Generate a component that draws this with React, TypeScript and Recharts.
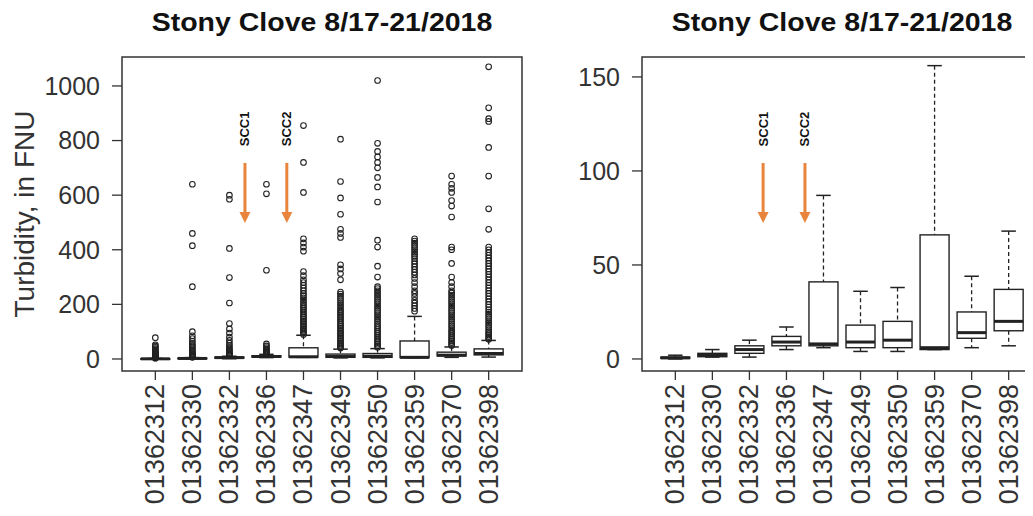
import { ComposedChart, Bar, Scatter, XAxis, YAxis, ReferenceArea, ReferenceLine } from 'recharts';

// USGS gage stations along Stony Clove Creek
const stations = ['01362312', '01362330', '01362332', '01362336', '01362347', '01362349', '01362350', '01362359', '01362370', '01362398'];
const stationPos = [1, 2, 3, 4, 5, 6, 7, 8, 9, 10];

// box statistics, turbidity in FNU
const whiskerLow = [0, 1, 1, 5, 6, 4, 4, 5, 6, 7];
const q1 = [0.3, 1.2, 3, 7, 7, 6, 6, 5, 11, 15];
const median = [0.6, 2, 5, 9, 8, 9, 10, 6, 14, 20];
const q3 = [1, 3, 7, 12, 41, 18, 20, 66, 25, 37];
const whiskerHigh = [2, 5, 10, 17, 87, 36, 38, 156, 44, 68];

// outliers per station (left panel only)
const outliers01362312 = [3, 4, 5, 6, 8, 10, 12, 14, 16, 18, 20, 23, 26, 30, 34, 38, 43, 48, 52, 78];
const outliers01362330 = [6, 8, 10, 12, 14, 17, 20, 24, 28, 33, 38, 44, 50, 57, 65, 75, 85, 100, 265, 415, 460, 640];
const outliers01362332 = [12, 14, 16, 18, 21, 24, 28, 32, 37, 43, 50, 58, 68, 80, 95, 110, 130, 205, 298, 405, 585, 600];
const outliers01362336 = [19, 22, 25, 29, 33, 37, 42, 48, 55, 325, 605, 640];
const outliers01362347 = [90, 95, 100, 105, 110, 116, 122, 128, 134, 140, 146, 152, 158, 165, 172, 179, 186, 193, 200, 208, 216, 224, 232, 240, 250, 260, 270, 280, 290, 305, 320, 395, 410, 425, 440, 610, 720, 855];
const outliers01362349 = [40, 45, 50, 55, 60, 66, 72, 78, 84, 90, 96, 102, 108, 114, 120, 126, 133, 140, 147, 154, 161, 168, 175, 182, 190, 198, 206, 214, 222, 230, 238, 245, 290, 313, 330, 345, 445, 460, 475, 530, 590, 650, 805];
const outliers01362350 = [43, 48, 54, 60, 66, 73, 80, 87, 94, 101, 108, 115, 122, 130, 138, 146, 154, 162, 170, 178, 186, 194, 202, 210, 218, 226, 234, 242, 250, 258, 265, 300, 340, 410, 435, 575, 630, 665, 700, 720, 740, 760, 790, 1020];
const outliers01362359 = [175, 185, 195, 205, 215, 228, 240, 250, 265, 280, 295, 308, 318, 328, 338, 348, 358, 368, 376, 384, 392, 400, 408, 416, 424, 432, 440];
const outliers01362370 = [49, 54, 60, 66, 72, 78, 85, 92, 99, 106, 114, 122, 130, 138, 146, 154, 162, 170, 178, 186, 194, 202, 210, 218, 226, 234, 242, 250, 265, 280, 300, 350, 400, 410, 520, 560, 580, 610, 625, 640, 670];
const outliers01362398 = [72, 76, 82, 88, 94, 100, 108, 116, 124, 132, 140, 148, 156, 164, 172, 180, 190, 200, 210, 220, 230, 240, 250, 260, 270, 280, 290, 300, 310, 320, 330, 340, 350, 360, 370, 380, 390, 400, 410, 475, 550, 670, 775, 870, 880, 920, 1070];
const outlierLists = [outliers01362312, outliers01362330, outliers01362332, outliers01362336, outliers01362347, outliers01362349, outliers01362350, outliers01362359, outliers01362370, outliers01362398];

const leftTicks = [0, 200, 400, 600, 800, 1000];
const rightTicks = [0, 50, 100, 150];
const leftDomain = [-44, 1106];
const rightDomain = [-6.4, 160.6];
const xDomain = [0.1, 10.9];

const title = 'Stony Clove 8/17-21/2018';
const yLabel = 'Turbidity, in FNU';
const sccLabels = ['SCC1', 'SCC2'];
// arrow annotations: x in station units, y top/bottom in data units
const leftArrowX = [3.42, 4.55];
const leftArrowY = [718, 498];
const rightArrowX = [3.37, 4.5];
const rightArrowY = [104.2, 72.3];

const boxData = stationPos.map((x, i) => ({
  x,
  range: [whiskerLow[i], whiskerHigh[i]],
  lo: whiskerLow[i],
  q1: q1[i],
  med: median[i],
  q3: q3[i],
  hi: whiskerHigh[i],
}));

const outlierData = stationPos.flatMap((x, i) => outlierLists[i].map((y) => ({ x, y })));

const INK = '#222';
const ORANGE = '#E8843C';
const FONT = '"Liberation Sans", Arial, sans-serif';

function BoxShape(props: any) {
  const { x, y, width, height, payload } = props;
  if (!payload || !isFinite(y) || !isFinite(height)) return null;
  const { lo, hi } = payload;
  const k = height / (hi - lo);
  const py = (v: number) => y + (hi - v) * k;
  const cx = x + width / 2;
  const cap = width / 4;
  return (
    <g>
      <line x1={cx} x2={cx} y1={py(payload.hi)} y2={py(payload.q3)} stroke={INK} strokeWidth={1.3} strokeDasharray="4 3" />
      <line x1={cx} x2={cx} y1={py(payload.q1)} y2={py(payload.lo)} stroke={INK} strokeWidth={1.3} strokeDasharray="4 3" />
      <line x1={cx - cap} x2={cx + cap} y1={py(payload.hi)} y2={py(payload.hi)} stroke={INK} strokeWidth={1.5} />
      <line x1={cx - cap} x2={cx + cap} y1={py(payload.lo)} y2={py(payload.lo)} stroke={INK} strokeWidth={1.5} />
      <rect x={x} y={py(payload.q3)} width={width} height={Math.max(py(payload.q1) - py(payload.q3), 0.5)} fill="#fff" stroke={INK} strokeWidth={1.4} />
      <line x1={x} x2={x + width} y1={py(payload.med)} y2={py(payload.med)} stroke={INK} strokeWidth={3} />
    </g>
  );
}

function OutlierDot(props: any) {
  const { cx, cy } = props;
  if (!isFinite(cx) || !isFinite(cy)) return null;
  return <circle cx={cx} cy={cy} r={2.8} fill="none" stroke={INK} strokeWidth={1.1} />;
}

function arrowShape(props: any, label: string) {
  const { x1, y1, x2, y2 } = props;
  if (!isFinite(x1) || !isFinite(y1)) return <g />;
  return (
    <g>
      <line x1={x1} x2={x2} y1={y1} y2={y2 - 9} stroke={ORANGE} strokeWidth={3} />
      <polygon points={`${x2 - 5.5},${y2 - 11} ${x2 + 5.5},${y2 - 11} ${x2},${y2}`} fill={ORANGE} />
      <text
        x={x1}
        y={y1 - 34}
        transform={`rotate(-90 ${x1} ${y1 - 34})`}
        textAnchor="middle"
        dominantBaseline="central"
        fontSize={13}
        fontWeight="bold"
        fill="#111"
      >
        {label}
      </text>
    </g>
  );
}

function StationTick(props: any) {
  const { x, y, payload } = props;
  const name = stations[payload.value - 1];
  return (
    <text
      x={x}
      y={y}
      transform={`rotate(-90 ${x} ${y})`}
      textAnchor="end"
      dominantBaseline="central"
      fontSize={27}
      fill="#333"
    >
      {name}
    </text>
  );
}

function YLabel(props: any) {
  const vb = props.viewBox || { x: 0, y: 0, width: 0, height: 0 };
  const lx = vb.x - 26;
  const ly = vb.y + vb.height / 2;
  return (
    <text x={lx} y={ly} transform={`rotate(-90 ${lx} ${ly})`} textAnchor="middle" dominantBaseline="central" fontSize={28} fill="#333">
      {yLabel}
    </text>
  );
}

function Panel({ yDomain, yTicks, arrowX, arrowY, showOutliers, showYLabel }: any) {
  return (
    <ComposedChart
      width={540}
      height={516}
      data={boxData}
      margin={{ top: 57, right: 18, bottom: 11, left: 50 }}
    >
      <XAxis
        dataKey="x"
        type="number"
        domain={xDomain}
        allowDataOverflow
        ticks={stationPos}
        interval={0}
        height={134}
        tickSize={9}
        tickMargin={4}
        axisLine={false}
        tickLine={{ stroke: '#333', strokeWidth: 1.3 }}
        tick={<StationTick />}
      />
      <YAxis
        type="number"
        domain={yDomain}
        allowDataOverflow
        ticks={yTicks}
        width={72}
        tickSize={10}
        tickMargin={12}
        axisLine={false}
        tickLine={{ stroke: '#333', strokeWidth: 1.3 }}
        tick={{ fontSize: 25, fill: '#333' }}
        label={showYLabel ? <YLabel /> : undefined}
      />
      <ReferenceArea x1={xDomain[0]} x2={xDomain[1]} y1={yDomain[0]} y2={yDomain[1]} fill="none" stroke="#333" strokeWidth={1.5} fillOpacity={0} />
      <Bar dataKey="range" barSize={29} shape={<BoxShape />} isAnimationActive={false} />
      {showOutliers && (
        <Scatter data={outlierData} dataKey="y" shape={<OutlierDot />} isAnimationActive={false} />
      )}
      {sccLabels.map((lab, i) => (
        <ReferenceLine
          key={lab}
          segment={[{ x: arrowX[i], y: arrowY[0] }, { x: arrowX[i], y: arrowY[1] }]}
          shape={(p: any) => arrowShape(p, lab)}
        />
      ))}
    </ComposedChart>
  );
}

const titleStyle: any = {
  position: 'absolute',
  width: 500,
  top: 10,
  textAlign: 'center',
  fontSize: 25,
  fontWeight: 'bold',
  lineHeight: '25px',
  color: '#111',
  transform: 'scaleX(1.14)',
  transformOrigin: 'center',
};

export default function App() {
  return (
    <div style={{ position: 'relative', width: 1033, height: 516, margin: -8, overflow: 'hidden', background: '#fff', fontFamily: FONT }}>
      <div style={{ position: 'absolute', left: 0, top: 0 }}>
        <Panel yDomain={leftDomain} yTicks={leftTicks} arrowX={leftArrowX} arrowY={leftArrowY} showOutliers showYLabel />
      </div>
      <div style={{ position: 'absolute', left: 520, top: 0 }}>
        <Panel yDomain={rightDomain} yTicks={rightTicks} arrowX={rightArrowX} arrowY={rightArrowY} showOutliers={false} showYLabel={false} />
      </div>
      <div style={{ ...titleStyle, left: 72 }}>{title}</div>
      <div style={{ ...titleStyle, left: 592 }}>{title}</div>
    </div>
  );
}
